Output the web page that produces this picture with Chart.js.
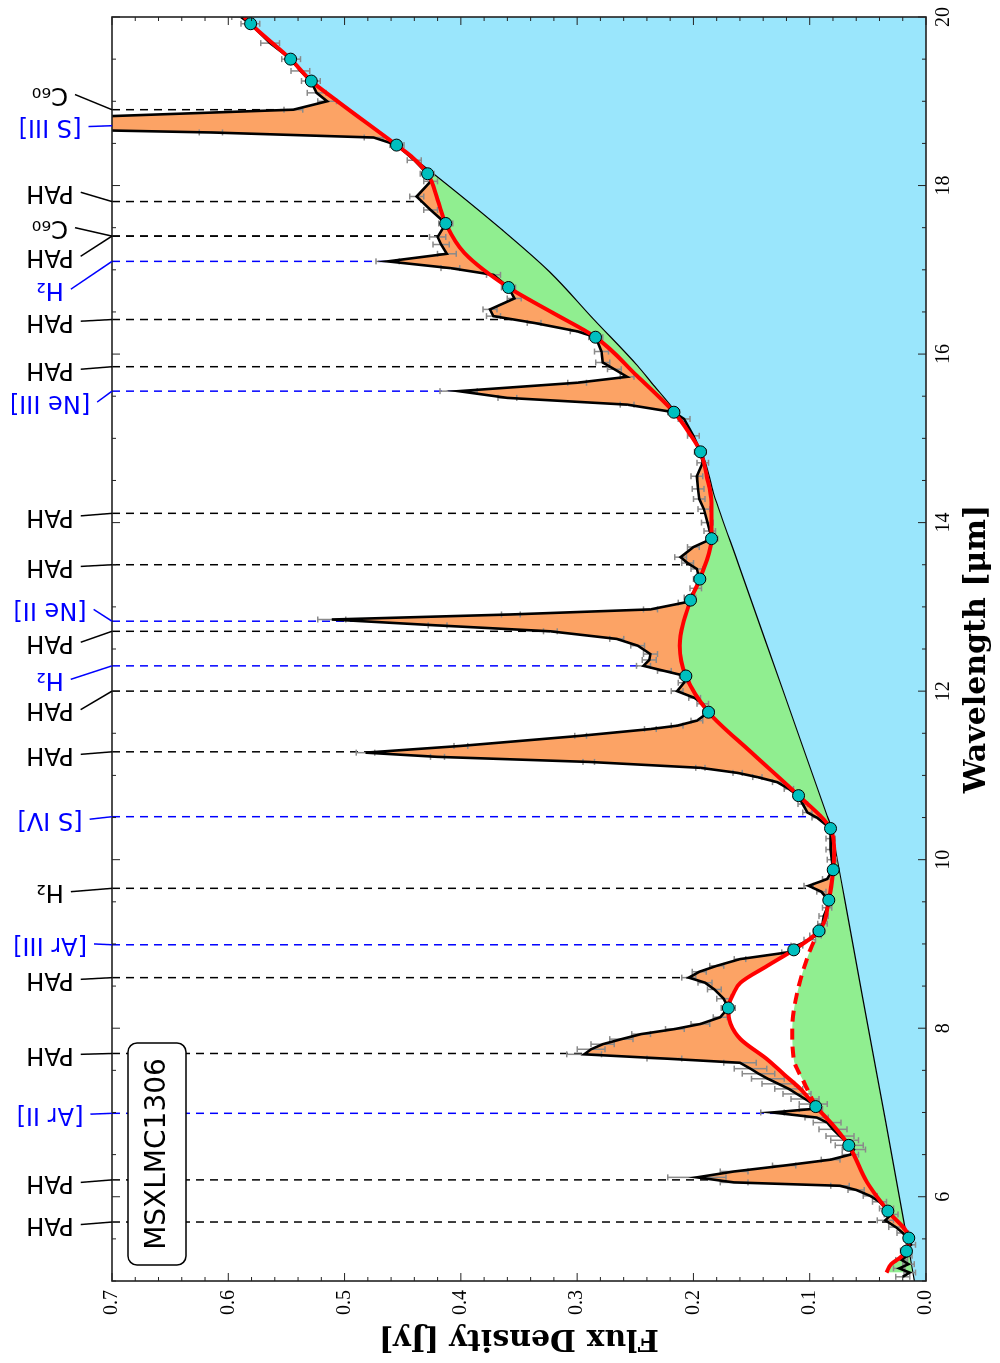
<!DOCTYPE html>
<html>
<head>
<meta charset="utf-8">
<script src="https://cdn.jsdelivr.net/npm/chart.js@4.4.1/dist/chart.umd.min.js"></script>
<style>
  html, body { margin: 0; padding: 0; background: #fff; overflow: hidden; }
  #wrap { position: relative; width: 1000px; height: 1363px; overflow: hidden; }
  /* the figure is drawn landscape and turned a quarter turn to the left */
  #spec { position: absolute; left: 0; top: 0; width: 1363px; height: 1000px;
          transform-origin: 0 0; transform: translateY(1363px) rotate(-90deg); }
</style>
</head>
<body>
<div id="wrap"><canvas id="spec" width="1363" height="1000"></canvas></div>
<script>
// observed spectrum (micron, Jy, 1-sigma)
const specWave = [5.05, 5.10, 5.15, 5.20, 5.25, 5.30, 5.36, 5.43, 5.50, 5.57, 5.64, 5.72, 5.79, 5.86, 5.94, 6.01, 6.08, 6.13, 6.17, 6.23,
  6.30, 6.37, 6.44, 6.50, 6.56, 6.61, 6.67, 6.72, 6.80, 6.88, 6.94, 7.00, 7.04, 7.10, 7.16, 7.22, 7.28, 7.34, 7.40, 7.46,
  7.52, 7.59, 7.64, 7.69, 7.75, 7.81, 7.87, 7.93, 7.99, 8.05, 8.13, 8.24, 8.35, 8.46, 8.54, 8.60, 8.67, 8.74, 8.82, 8.90,
  8.98, 9.05, 9.10, 9.15, 9.24, 9.33, 9.43, 9.52, 9.62, 9.69, 9.77, 9.88, 10.00, 10.12, 10.25, 10.37, 10.50, 10.56, 10.66, 10.76,
  10.84, 10.92, 10.98, 11.03, 11.09, 11.16, 11.22, 11.27, 11.35, 11.47, 11.55, 11.59, 11.65, 11.75, 11.85, 11.92, 12.00, 12.10, 12.18, 12.24,
  12.30, 12.37, 12.44, 12.54, 12.62, 12.71, 12.78, 12.85, 12.91, 12.97, 13.05, 13.11, 13.22, 13.33, 13.45, 13.52, 13.59, 13.71, 13.81, 13.90,
  14.00, 14.16, 14.28, 14.40, 14.55, 14.71, 14.84, 15.03, 15.23, 15.31, 15.40, 15.48, 15.56, 15.66, 15.73, 15.82, 15.90, 16.03, 16.20, 16.27,
  16.37, 16.45, 16.53, 16.66, 16.79, 16.94, 17.02, 17.10, 17.19, 17.30, 17.39, 17.55, 17.71, 17.87, 18.05, 18.14, 18.30, 18.48, 18.57, 18.63,
  18.72, 18.80, 18.90, 19.00, 19.10, 19.24, 19.36, 19.50, 19.69, 19.92, 20.00];
const specFlux = [0.020, 0.014, 0.023, 0.015, 0.021, 0.016, 0.018, 0.013, 0.015, 0.020, 0.026, 0.035, 0.030, 0.034, 0.040, 0.048, 0.060, 0.074, 0.165, 0.197,
  0.165, 0.122, 0.082, 0.065, 0.062, 0.066, 0.070, 0.074, 0.080, 0.085, 0.094, 0.132, 0.099, 0.097, 0.104, 0.111, 0.118, 0.127, 0.136, 0.144,
  0.151, 0.160, 0.225, 0.294, 0.288, 0.278, 0.262, 0.245, 0.216, 0.194, 0.177, 0.170, 0.174, 0.182, 0.190, 0.204, 0.195, 0.180, 0.160, 0.119,
  0.111, 0.100, 0.095, 0.092, 0.089, 0.088, 0.085, 0.084, 0.090, 0.101, 0.085, 0.080, 0.081, 0.082, 0.082, 0.082, 0.094, 0.102, 0.106, 0.110,
  0.118, 0.128, 0.145, 0.162, 0.194, 0.290, 0.420, 0.482, 0.400, 0.297, 0.237, 0.214, 0.197, 0.187, 0.192, 0.199, 0.214, 0.208, 0.207, 0.225,
  0.243, 0.238, 0.237, 0.248, 0.266, 0.323, 0.420, 0.511, 0.357, 0.237, 0.208, 0.203, 0.198, 0.195, 0.197, 0.205, 0.211, 0.200, 0.184, 0.186,
  0.188, 0.191, 0.195, 0.196, 0.197, 0.192, 0.194, 0.200, 0.208, 0.217, 0.257, 0.360, 0.402, 0.300, 0.257, 0.268, 0.278, 0.279, 0.284, 0.300,
  0.337, 0.372, 0.375, 0.354, 0.359, 0.372, 0.409, 0.463, 0.412, 0.417, 0.420, 0.413, 0.426, 0.438, 0.426, 0.429, 0.440, 0.455, 0.475, 0.615,
  0.950, 0.750, 0.544, 0.515, 0.524, 0.529, 0.538, 0.546, 0.564, 0.581, 0.589];
const specErr = [0.006, 0.005, 0.005, 0.005, 0.005, 0.004, 0.004, 0.004, 0.004, 0.005, 0.006, 0.007, 0.006, 0.006, 0.006, 0.006, 0.007, 0.008, 0.012, 0.025,
  0.012, 0.010, 0.008, 0.007, 0.010, 0.012, 0.012, 0.012, 0.012, 0.012, 0.010, 0.010, 0.010, 0.012, 0.012, 0.012, 0.012, 0.014, 0.014, 0.014,
  0.014, 0.014, 0.015, 0.015, 0.012, 0.010, 0.010, 0.008, 0.008, 0.008, 0.006, 0.006, 0.006, 0.006, 0.006, 0.006, 0.006, 0.006, 0.005, 0.005,
  0.005, 0.005, 0.005, 0.005, 0.004, 0.004, 0.004, 0.004, 0.004, 0.004, 0.004, 0.004, 0.004, 0.004, 0.004, 0.004, 0.004, 0.004, 0.004, 0.004,
  0.004, 0.004, 0.004, 0.004, 0.004, 0.005, 0.006, 0.008, 0.006, 0.005, 0.005, 0.005, 0.005, 0.005, 0.005, 0.005, 0.005, 0.005, 0.005, 0.006,
  0.006, 0.006, 0.006, 0.006, 0.006, 0.006, 0.008, 0.012, 0.008, 0.006, 0.005, 0.005, 0.005, 0.005, 0.005, 0.005, 0.005, 0.005, 0.005, 0.005,
  0.005, 0.005, 0.005, 0.005, 0.005, 0.005, 0.005, 0.005, 0.005, 0.005, 0.006, 0.008, 0.016, 0.008, 0.006, 0.006, 0.006, 0.006, 0.006, 0.006,
  0.006, 0.006, 0.006, 0.006, 0.006, 0.006, 0.008, 0.010, 0.008, 0.007, 0.007, 0.006, 0.006, 0.006, 0.006, 0.006, 0.006, 0.006, 0.008, 0.010,
  0.020, 0.012, 0.008, 0.008, 0.008, 0.008, 0.008, 0.008, 0.008, 0.008, 0.008];

// total fit (red), with its anchor points (cyan)
const fitWave = [5.10, 5.20, 5.28, 5.355, 5.51, 5.83, 6.17, 6.61, 6.84, 7.07, 7.28, 7.45, 7.63, 7.87, 8.05, 8.24, 8.40, 8.54, 8.74, 8.93,
  9.155, 9.52, 9.88, 10.12, 10.37, 10.76, 11.27, 11.75, 12.18, 12.54, 13.08, 13.33, 13.81, 14.24, 14.55, 14.84, 15.05, 15.31, 15.74, 16.20,
  16.49, 16.79, 17.20, 17.55, 17.83, 18.14, 18.35, 18.48, 19.02, 19.24, 19.50, 19.92, 20.00];
const fitFlux = [0.034, 0.030, 0.022, 0.0168, 0.0148, 0.0328, 0.0506, 0.0664, 0.0793, 0.0948, 0.108, 0.122, 0.1365, 0.1595, 0.168, 0.170, 0.166, 0.1595, 0.1365, 0.1137,
  0.092, 0.0836, 0.0798, 0.0790, 0.0821, 0.1096, 0.150, 0.187, 0.2065, 0.2117, 0.2025, 0.1945, 0.1844, 0.1845, 0.1885, 0.1939, 0.203, 0.2168, 0.2485, 0.2842,
  0.321, 0.359, 0.397, 0.413, 0.420, 0.4286, 0.443, 0.4553, 0.508, 0.5286, 0.5464, 0.5808, 0.586];
const anchorWave = [5.355, 5.51, 5.83, 6.61, 7.07, 8.24, 8.93, 9.155, 9.52, 9.88, 10.37, 10.76, 11.75, 12.18, 13.08, 13.33, 13.81, 14.84, 15.31, 16.20,
  16.79, 17.55, 18.14, 18.48, 19.24, 19.50, 19.92];
const anchorFlux = [0.0168, 0.0148, 0.0328, 0.0664, 0.0948, 0.170, 0.1137, 0.092, 0.0836, 0.0798, 0.0821, 0.1096, 0.187, 0.2065, 0.2025, 0.1945, 0.1844, 0.1939, 0.2168, 0.2842,
  0.359, 0.413, 0.4286, 0.4553, 0.5286, 0.5464, 0.5808];

// plateau under the 7.7 complex (red dashed)
const plateauWave = [7.07, 7.36, 7.63, 8.00, 8.42, 8.94, 9.155];
const plateauFlux = [0.0948, 0.105, 0.1137, 0.115, 0.1108, 0.0993, 0.092];

// dust continuum: two straight pieces below 14.3 micron, then curving up
const contWave = [5.00, 5.54, 7.50, 9.50, 10.20, 10.37, 10.55, 12.00, 13.50, 14.34, 14.84, 15.31, 15.66, 15.86, 16.41, 16.98, 17.48, 18.20, 18.48, 19.24, 19.50, 19.92, 20.00];
const contFlux = [0.010, 0.0168, 0.0429, 0.0696, 0.0789, 0.0812, 0.0858, 0.1228, 0.1611, 0.1825, 0.1930, 0.2150, 0.2360, 0.2480, 0.2856, 0.3240, 0.3650, 0.4290, 0.4553, 0.5286, 0.5464, 0.5808, 0.586];

// line identifications
const lineWaves  = [18.90, 18.71, 17.81, 17.40, 17.40, 17.10, 16.41, 15.85, 15.56, 14.11, 13.50, 12.83, 12.71, 12.30, 12.00, 11.28, 10.51, 9.66, 8.99, 8.60, 7.70, 6.99, 6.20, 5.70];
const labelWaves = [19.08, 18.70, 17.92, 17.50, 17.16, 16.77, 16.39, 15.82, 15.43, 14.08, 13.48, 12.97, 12.58, 12.14, 11.78, 11.25, 10.48, 9.62, 9.00, 8.58, 7.69, 6.98, 6.17, 5.67];
const lineNames  = ['C₆₀', '[S III]', 'PAH', 'C₆₀', 'PAH', 'H₂', 'PAH', 'PAH', '[Ne III]', 'PAH', 'PAH', '[Ne II]', 'PAH', 'H₂', 'PAH', 'PAH', '[S IV]', 'H₂', '[Ar III]', 'PAH', 'PAH', '[Ar II]', 'PAH', 'PAH'];
const lineColors = ['#000', '#0000ff', '#000', '#000', '#000', '#0000ff', '#000', '#000', '#0000ff', '#000', '#000', '#0000ff', '#000', '#0000ff', '#000', '#000', '#0000ff', '#000', '#0000ff', '#000', '#000', '#0000ff', '#000', '#000'];

const waveTicks = [6, 8, 10, 12, 14, 16, 18, 20];
const sourceName = 'MSXLMC1306';

const BLUE = '#9ae6fc';
const GREEN = '#90ee90';
const ORANGE = '#fca365';
const NONE = 'rgba(0,0,0,0)';

function pts(xs, ys) {
    return xs.map((x, i) => ({ x: x, y: ys[i] }));
}

// outer edge of the green area: the fit, but the plateau where it exists
const lo = plateauWave[0], hi = plateauWave[plateauWave.length - 1];
const greenEdge = pts(fitWave, fitFlux).filter(p => p.x < lo || p.x > hi)
    .concat(pts(plateauWave, plateauFlux))
    .sort((a, b) => a.x - b.x);

function specAt(w) {
    for (let i = 1; i < specWave.length; i++) {
        if (specWave[i] >= w) {
            const t = (w - specWave[i - 1]) / (specWave[i] - specWave[i - 1]);
            return specFlux[i - 1] + t * (specFlux[i] - specFlux[i - 1]);
        }
    }
    return specFlux[specFlux.length - 1];
}

const idLines = {
    id: 'idLines',
    beforeDatasetsDraw(chart) {
        const { ctx, chartArea: a, scales: { x, y } } = chart;
        ctx.save();
        ctx.beginPath();
        ctx.rect(a.left, a.top, a.right - a.left, a.bottom - a.top);
        ctx.clip();
        ctx.lineWidth = 1.5;
        ctx.setLineDash([8, 6]);
        lineWaves.forEach((w, i) => {
            const px = x.getPixelForValue(w);
            const end = Math.min(specAt(w), 0.7);
            ctx.strokeStyle = lineColors[i];
            ctx.beginPath();
            ctx.moveTo(px, a.top);
            ctx.lineTo(px, y.getPixelForValue(end));
            ctx.stroke();
        });
        ctx.restore();
    },
    beforeDatasetDraw(chart, args) {
        if (args.index !== 3) return;
        const { ctx, chartArea: a, scales: { x, y } } = chart;
        ctx.save();
        ctx.beginPath();
        ctx.rect(a.left, a.top, a.right - a.left, a.bottom - a.top);
        ctx.clip();
        ctx.strokeStyle = '#8a8a8a';
        ctx.lineWidth = 1.5;
        specWave.forEach((w, i) => {
            const px = x.getPixelForValue(w);
            const y1 = y.getPixelForValue(specFlux[i] - specErr[i]);
            const y2 = y.getPixelForValue(specFlux[i] + specErr[i]);
            ctx.beginPath();
            ctx.moveTo(px, y1); ctx.lineTo(px, y2);
            ctx.moveTo(px - 3, y1); ctx.lineTo(px + 3, y1);
            ctx.moveTo(px - 3, y2); ctx.lineTo(px + 3, y2);
            ctx.stroke();
        });
        ctx.restore();
    },
    afterDatasetsDraw(chart) {
        const { ctx, chartArea: a, scales: { x, y } } = chart;
        ctx.save();
        ctx.strokeStyle = '#222';
        ctx.lineWidth = 1;
        // inward ticks on all four sides
        for (let k = 0; k <= 30; k++) {
            const w = 5 + k * 0.5;
            const px = x.getPixelForValue(w);
            const len = (w % 2 === 0) ? 8 : 4;
            ctx.beginPath();
            ctx.moveTo(px, a.bottom); ctx.lineTo(px, a.bottom - len);
            ctx.moveTo(px, a.top); ctx.lineTo(px, a.top + len);
            ctx.stroke();
        }
        for (let k = 0; k <= 35; k++) {
            const py = y.getPixelForValue(k * 0.02);
            const len = (k % 5 === 0) ? 8 : 4;
            ctx.beginPath();
            ctx.moveTo(a.left, py); ctx.lineTo(a.left + len, py);
            ctx.moveTo(a.right, py); ctx.lineTo(a.right - len, py);
            ctx.stroke();
        }
        ctx.lineWidth = 1.6;
        ctx.strokeRect(a.left, a.top, a.right - a.left, a.bottom - a.top);
        ctx.restore();
    },
    afterDraw(chart) {
        const { ctx, chartArea: a, scales: { x } } = chart;
        ctx.save();
        ctx.font = '24px "DejaVu Sans"';
        ctx.lineWidth = 1.5;
        const cy = 50;
        lineNames.forEach((name, i) => {
            const lx = x.getPixelForValue(labelWaves[i]);
            const px = x.getPixelForValue(lineWaves[i]);
            const half = ctx.measureText(name).width / 2;
            ctx.strokeStyle = lineColors[i];
            ctx.beginPath();
            ctx.moveTo(lx, cy + half + 7);
            ctx.lineTo(px, a.top);
            ctx.stroke();
            ctx.save();
            ctx.translate(lx, cy);
            ctx.rotate(-Math.PI / 2);
            ctx.fillStyle = lineColors[i];
            ctx.textAlign = 'center';
            ctx.textBaseline = 'middle';
            ctx.fillText(name, 0, 0);
            ctx.restore();
        });
        // source name box
        const bx = 98, by = 128, bw = 222, bh = 58;
        ctx.strokeStyle = '#000';
        ctx.lineWidth = 1.5;
        ctx.fillStyle = '#fff';
        ctx.beginPath();
        ctx.roundRect(bx, by, bw, bh, 9);
        ctx.fill();
        ctx.stroke();
        ctx.fillStyle = '#000';
        ctx.font = '28px "DejaVu Sans"';
        ctx.textAlign = 'center';
        ctx.textBaseline = 'middle';
        ctx.fillText(sourceName, bx + bw / 2, by + bh / 2 + 1);
        ctx.restore();
    }
};

new Chart(document.getElementById('spec'), {
    type: 'line',
    data: {
        datasets: [
            { data: pts(contWave, contFlux), borderWidth: 0, pointRadius: 0, cubicInterpolationMode: 'monotone',
              fill: { target: 'origin', above: BLUE, below: BLUE }, order: 9 },
            { data: greenEdge, borderWidth: 0, pointRadius: 0, cubicInterpolationMode: 'monotone',
              fill: { target: 0, above: GREEN, below: NONE }, order: 8 },
            { data: pts(contWave, contFlux), borderColor: '#000', borderWidth: 1.2, pointRadius: 0,
              cubicInterpolationMode: 'monotone', fill: false, order: 7 },
            { data: pts(specWave, specFlux), borderColor: '#000', borderWidth: 2.6, pointRadius: 0, tension: 0,
              fill: { target: 4, above: ORANGE, below: NONE }, order: 6 },
            { data: pts(fitWave, fitFlux), borderColor: '#ff0000', borderWidth: 4, pointRadius: 0,
              cubicInterpolationMode: 'monotone', fill: false, order: 5 },
            { data: pts(plateauWave, plateauFlux), borderColor: '#ff0000', borderWidth: 4, borderDash: [11, 7], pointRadius: 0,
              cubicInterpolationMode: 'monotone', fill: false, order: 4 },
            { data: pts(anchorWave, anchorFlux), showLine: false, pointRadius: 6, pointBackgroundColor: '#00bfbf',
              pointBorderColor: '#000', pointBorderWidth: 1, fill: false, order: 0 }
        ]
    },
    options: {
        responsive: false,
        animation: false,
        devicePixelRatio: 1,
        layout: { padding: { top: 112, right: 17, left: 0, bottom: 0 } },
        plugins: { legend: { display: false }, tooltip: { enabled: false } },
        scales: {
            x: {
                type: 'linear', min: 5, max: 20,
                grid: { display: false, drawTicks: false }, border: { display: false },
                afterBuildTicks: s => { s.ticks = waveTicks.map(v => ({ value: v })); },
                afterFit: s => { s.height = 74; },
                ticks: { color: '#000', padding: 6, maxRotation: 0, font: { family: 'Liberation Serif', size: 20 },
                         callback: v => String(v) },
                title: { display: true, text: 'Wavelength [μm]', color: '#000', padding: { top: 0, bottom: 5 },
                         font: { family: 'DejaVu Serif', weight: 'bold', size: 30 } }
            },
            y: {
                min: 0, max: 0.7,
                grid: { display: false, drawTicks: false }, border: { display: false },
                afterFit: s => { s.width = 82; },
                ticks: { stepSize: 0.1, color: '#000', padding: 9, font: { family: 'Liberation Serif', size: 20 },
                         callback: v => v.toFixed(1) },
                title: { display: true, text: 'Flux Density [Jy]', color: '#000', padding: { top: 7, bottom: 0 },
                         font: { family: 'DejaVu Serif', weight: 'bold', size: 30 } }
            }
        }
    },
    plugins: [idLines]
});
</script>
</body>
</html>
